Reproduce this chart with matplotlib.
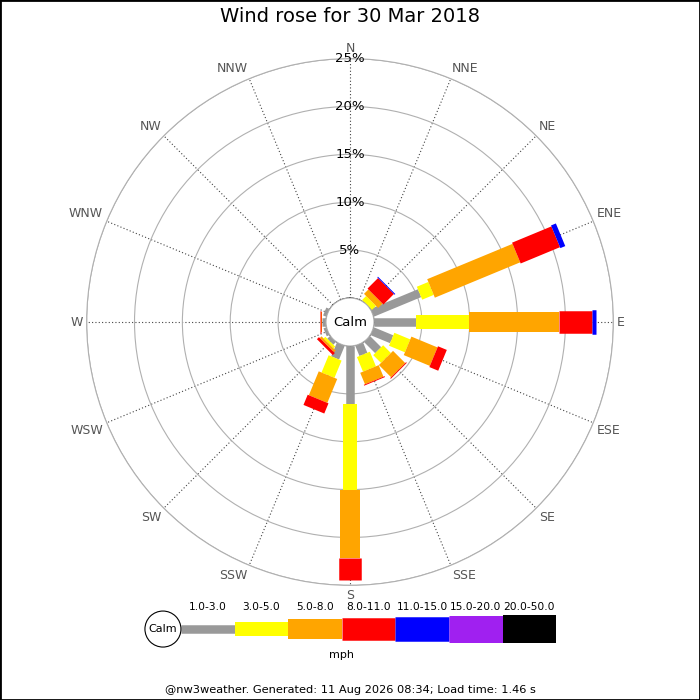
import numpy as np
import matplotlib
matplotlib.use("Agg")
import matplotlib.pyplot as plt
from matplotlib.patches import Circle, Rectangle

# wind directions and % of time per speed bin (mph)
directions = ['N', 'NNE', 'NE', 'ENE', 'E', 'ESE', 'SE', 'SSE',
              'S', 'SSW', 'SW', 'WSW', 'W', 'WNW', 'NW', 'NNW']
speed_bins = ['1.0-3.0', '3.0-5.0', '5.0-8.0', '8.0-11.0',
              '11.0-15.0', '15.0-20.0', '20.0-50.0']

pct_1_3 = [0, 0, 0, 5.35, 4.4, 2.2, 1.65, 1.15, 6.1, 1.55, 0.4, 0.3, 0.4, 0.35, 0, 0]
pct_3_5 = [0, 0, 0.6, 1.3, 5.55, 1.8, 1.15, 1.65, 8.9, 1.95, 0.25, 0, 0.05, 0, 0, 0]
pct_5_8 = [0, 0, 0.65, 9.65, 9.35, 2.95, 1.8, 1.3, 7.1, 2.7, 0.25, 0, 0.05, 0, 0, 0]
pct_8_11 = [0, 0, 1.55, 4.45, 3.5, 1.0, 0.1, 0.1, 2.3, 1.15, 0.3, 0, 0.1, 0, 0, 0]
pct_11_15 = [0, 0, 0.1, 0.55, 0.4, 0, 0, 0, 0, 0, 0, 0, 0, 0, 0, 0]
pct_15_20 = [0] * 16
pct_20_50 = [0] * 16

ring_ticks = [5, 10, 15, 20, 25]

colours = ['#999999', '#ffff00', '#ffa500', '#ff0000', '#0000ff', '#a020f0', '#000000']
widths = [8.5, 14, 20, 22.5, 24.5, 27, 28]   # bar thickness in pixels
widths = [w * 0.72 for w in widths]           # -> points at 100 dpi

series = [pct_1_3, pct_3_5, pct_5_8, pct_8_11, pct_11_15, pct_15_20, pct_20_50]

fig = plt.figure(figsize=(7, 7), dpi=100)

# polar axes: centre at (350, 322) px, 25% ring at 263 px
ax = fig.add_axes([0.1238, 0.1638, 0.7524, 0.7524], projection='polar')
ax.set_theta_zero_location('N')
ax.set_theta_direction(-1)
ax.set_ylim(0, 25)
ax.set_rorigin(-2.513)

theta = np.deg2rad(np.arange(16) * 22.5)
ax.set_xticks(theta)
ax.set_xticklabels([])
ax.set_yticks(ring_ticks)
ax.set_yticklabels([])
ax.xaxis.grid(True, color='#444444', lw=0.8, ls=(0, (1, 2)))
ax.yaxis.grid(True, color='#b0b0b0', lw=0.8, ls='-')
ax.spines['polar'].set_color('#b0b0b0')
ax.spines['polar'].set_linewidth(0.8)
ax.spines['inner'].set_visible(False)

# stacked bars as thick butt-ended lines
bottom = np.zeros(16)
for vals, col, lw in zip(series, colours, widths):
    vals = np.array(vals, dtype=float)
    for th, b, v in zip(theta, bottom, vals):
        if v > 0:
            ax.plot([th, th], [b, b + v], color=col, lw=lw,
                    solid_capstyle='butt', zorder=3)
    bottom = bottom + vals

# calm circle
ax.add_patch(Circle((0.5, 0.5), 24 / 526.6, transform=ax.transAxes,
                    fc='white', ec='#b0b0b0', lw=0.8, zorder=5, clip_on=False))
ax.text(0.5, 0.5, 'Calm', transform=ax.transAxes, ha='center', va='center',
        fontsize=9.5, zorder=6)

# ring labels along north
for r in ring_ticks:
    ax.text(0, r, f'{r}%', ha='center', va='center', fontsize=9.5, zorder=4)

# compass labels
for th, lab in zip(theta, directions):
    s, c = np.sin(th), np.cos(th)
    ha = 'left' if s > 0.1 else ('right' if s < -0.1 else 'center')
    va = 'bottom' if c > 0.1 else ('top' if c < -0.1 else 'center')
    ax.text(th, 25.4, lab, ha=ha, va=va, fontsize=9, color='#555555',
            clip_on=False)

# legend strip
lax = fig.add_axes([135.4 / 700, (700 - 661.2) / 700, 423.4 / 700, 64.3 / 700])
lax.set_xlim(-0.85, 7.05)
lax.set_ylim(-0.6, 0.6)
lax.axis('off')
for i, (lab, col, lw) in enumerate(zip(speed_bins, colours, widths)):
    lax.plot([i, i + 1], [0, 0], color=col, lw=lw, solid_capstyle='butt')
    lax.text(i + 0.5, 0.41, lab, ha='center', va='center', fontsize=7.7)
lax.add_patch(Circle((-0.336, 0), 0.336, fc='white', ec='black', lw=0.8,
                     zorder=4, clip_on=False))
lax.text(-0.336, 0, 'Calm', ha='center', va='center', fontsize=8, zorder=5)
lax.text(3.0, -0.485, 'mph', ha='center', va='center', fontsize=8)

fig.text(0.5, 1 - 17 / 700, 'Wind rose for 30 Mar 2018', ha='center',
         va='center', fontsize=14)
fig.text(0.5, 1 - 690 / 700,
         '@nw3weather. Generated: 11 Aug 2026 08:34; Load time: 1.46 s',
         ha='center', va='center', fontsize=8.2)

fig.add_artist(Rectangle((0, 0), 1, 1, transform=fig.transFigure,
                         fill=False, ec='black', lw=2))

fig.savefig('out.png', dpi=100)
